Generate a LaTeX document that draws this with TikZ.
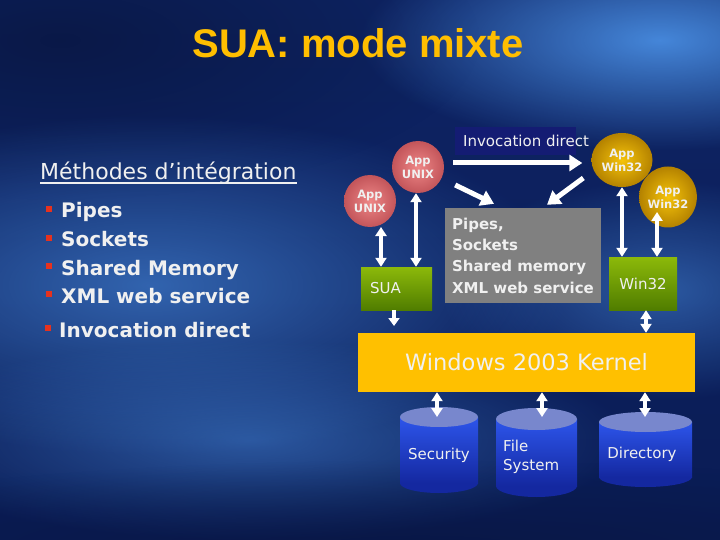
\documentclass[tikz,border=0pt]{standalone}
\usepackage{fontspec}
\setmainfont{DejaVu Sans}
\newfontfamily\arialfont{Liberation Sans}
\usetikzlibrary{arrows.meta,shapes.geometric,fadings,calc}
\definecolor{bgtop}{RGB}{14,36,100}
\definecolor{bgmid}{RGB}{25,65,150}
\definecolor{bgbot}{RGB}{10,28,85}
\definecolor{bglight}{RGB}{75,145,230}
\definecolor{bgdark}{RGB}{8,20,60}
\definecolor{titleyellow}{RGB}{255,190,0}
\definecolor{invnavy}{RGB}{20,28,115}
\definecolor{ipcgray}{RGB}{128,128,128}
\definecolor{kernelyellow}{RGB}{255,192,0}
\definecolor{greentop}{RGB}{140,185,10}
\definecolor{greenbot}{RGB}{80,125,0}
\definecolor{unixin}{RGB}{238,135,135}
\definecolor{unixout}{RGB}{195,85,90}
\definecolor{winin}{RGB}{245,195,10}
\definecolor{winout}{RGB}{180,130,0}
\definecolor{cylcap}{RGB}{120,135,205}
\definecolor{cyltop}{RGB}{45,85,235}
\definecolor{cylbot}{RGB}{20,40,160}
\definecolor{bulletred}{RGB}{230,50,30}
\definecolor{txtwhite}{RGB}{240,240,240}
\tikzfading[name=softglow, inner color=transparent!0, outer color=transparent!100]
\newcommand\drawcyl[5]{% cx, top, bottom, rx, ry
  \fill[cylbot] (#1,#3-#5) ellipse [x radius=#4, y radius=#5];
  \shade[top color=cyltop, bottom color=cylbot] (#1-#4,#2+#5) rectangle (#1+#4,#3-#5);
  \fill[cylcap] (#1,#2+#5) ellipse [x radius=#4, y radius=#5];
}
\begin{document}
\begin{tikzpicture}[x=1pt,y=-1pt,
  glow/.style={fill=#1, path fading=softglow},
  itemtext/.style={anchor=base west, inner sep=0, text=txtwhite, font=\bfseries\fontsize{20}{24}\selectfont},
  bul/.style={fill=bulletred, minimum size=6pt, inner sep=0},
  unixball/.style={circle, inner sep=0, minimum size=52pt, inner color=unixin, outer color=unixout, text=txtwhite, align=center, font=\bfseries\fontsize{11.5}{14}\selectfont},
  winball/.style={ellipse, inner sep=0, inner color=winin, outer color=winout, text=txtwhite, align=center, font=\bfseries\fontsize{11.5}{14}\selectfont},
  greenbox/.style={rectangle, top color=greentop, bottom color=greenbot, text=txtwhite, font=\fontsize{15}{18}\selectfont},
  cyltext/.style={text=txtwhite, font=\fontsize{15}{18}\selectfont, inner sep=0},
  fat/.style={draw=white, line width=5pt, -{Triangle[length=13pt,width=16pt]}},
  dbl/.style={draw=white, line width=4pt, {Triangle[length=9pt,width=11pt]}-{Triangle[length=9pt,width=11pt]}},
  sgl/.style={draw=white, line width=4pt, -{Triangle[length=8pt,width=11pt]}}
]
\useasboundingbox (0,0) rectangle (720,540);
% background
\shade[top color=bgtop, middle color=bgmid, bottom color=bgbot] (0,0) rectangle (720,540);
\fill[glow=bgdark, opacity=0.7] (60,40) ellipse [x radius=420, y radius=160];
\fill[glow=bglight, opacity=0.9] (660,40) ellipse [x radius=300, y radius=110];
\fill[glow=bglight, opacity=0.6] (150,285) ellipse [x radius=420, y radius=170];
\fill[glow=bglight, opacity=0.5] (250,440) ellipse [x radius=380, y radius=100];
\fill[glow=bglight, opacity=0.5] (660,290) ellipse [x radius=220, y radius=110];
\fill[glow=bgdark, opacity=0.6] (420,550) ellipse [x radius=700, y radius=90];

% title
\node[font=\arialfont\bfseries\fontsize{40}{48}\selectfont, text=titleyellow] (title) at (358,43) {SUA: mode mixte};

% left list
\node[anchor=base west, inner sep=0, text=txtwhite, font=\fontsize{22}{26}\selectfont] (meth) at (40,180) {Méthodes d’intégration};
\draw[txtwhite, line width=1.5pt] ([yshift=-3pt]meth.base west) -- ([yshift=-3pt]meth.base east);
\node[bul] (b1) at (48.5,209) {};
\node[itemtext] (l1) at (61,218) {Pipes};
\node[bul] (b2) at (48.5,238) {};
\node[itemtext] (l2) at (61,247) {Sockets};
\node[bul] (b3) at (48.5,266) {};
\node[itemtext] (l3) at (61,275) {Shared Memory};
\node[bul] (b4) at (48.5,294) {};
\node[itemtext] (l4) at (61,303) {XML web service};
\node[bul] (b5) at (47.5,328) {};
\node[itemtext] (l5) at (59,337) {Invocation direct};

% diagram
\node[fill=invnavy, minimum width=121pt, minimum height=28pt, inner sep=0] (invbg) at (515.5,141) {};
\node[text=txtwhite, font=\fontsize{15}{18}\selectfont, inner sep=0] (inv) at (526,141) {Invocation direct};

\node[unixball] (u1) at (418,167) {App\\UNIX};
\node[unixball] (u2) at (370,201) {App\\UNIX};
\node[winball, minimum width=61pt, minimum height=54pt] (w1) at (622,160) {App\\Win32};
\node[winball, minimum width=57pt, minimum height=61pt] (w2) at (668,197) {App\\Win32};

\node[rectangle, fill=ipcgray, minimum width=156pt, minimum height=95pt, align=left, inner sep=0, text=txtwhite, font=\bfseries\fontsize{15}{21.3}\selectfont] (ipc) at (523,255.5) {Pipes,\\Sockets\\Shared memory\\XML web service};

\node[greenbox, minimum height=43pt, inner xsep=9pt, inner ysep=0, text width=53pt, align=left] (sua) at (396.5,288.5) {SUA};
\node[greenbox, minimum width=68pt, minimum height=53pt, inner sep=0] (win) at (643,283.5) {Win32};

\node[rectangle, fill=kernelyellow, minimum width=337pt, minimum height=59pt, inner sep=0, text=txtwhite, font=\fontsize{22.5}{26}\selectfont] (kern) at (526.5,362.5) {Windows 2003 Kernel};

% cylinders
\drawcyl{439}{407}{493}{39}{10}
\drawcyl{536.5}{408}{497}{40.5}{11}
\drawcyl{645.5}{412}{487}{46.5}{10}
\node[cyltext] (sec) at (439,455) {Security};
\node[cyltext, anchor=west, align=left, font=\fontsize{15}{18.5}\selectfont] (fs) at (503,457) {File\\System};
\node[cyltext] (dir) at (642,454) {Directory};
\coordinate (secTop) at (437,417);
\coordinate (fsTop) at (542,417);
\coordinate (dirTop) at (645,417);

% arrows
\draw[fat] ($(u1.east)+(9,-4)$) -- ($(w1.west)+(-9,3)$);
\draw[fat] ($(u1.east)+(11,18)$) -- ($(ipc.north)+(-29,-4)$);
\draw[fat] ($(w1.west)+(-8,18)$) -- ($(ipc.north)+(24,-3)$);

\coordinate (u2a) at (381,227);
\draw[dbl] (u2a) -- (u2a |- sua.north);
\draw[dbl] ([xshift=-2pt]u1.south) -- ([xshift=-2pt]u1.south |- sua.north);
\draw[dbl] (w1.south) -- (w1.south |- win.north);
\coordinate (w2a) at (657,212);
\draw[dbl] (w2a) -- (w2a |- win.north);

\coordinate (suaDown) at (394,326);
\draw[sgl] (suaDown |- sua.south) -- (suaDown);
\draw[dbl] ([xshift=3pt]win.south) -- ([xshift=3pt]win.south |- kern.north);

\draw[dbl] (secTop |- kern.south) -- (secTop);
\draw[dbl] (fsTop |- kern.south) -- (fsTop);
\draw[dbl] (dirTop |- kern.south) -- (dirTop);
\end{tikzpicture}
\end{document}
